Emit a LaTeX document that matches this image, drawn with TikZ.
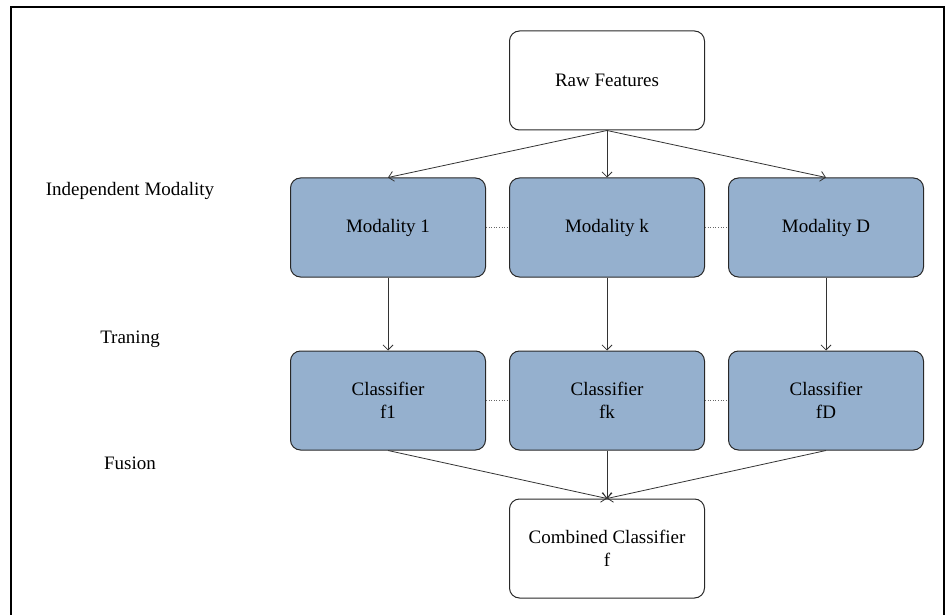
\documentclass[tikz,border=0pt]{standalone}
\usepackage{fontspec}
\setmainfont{Liberation Serif}
\usepackage{tikz}
\usetikzlibrary{arrows.meta}
\definecolor{boxblue}{RGB}{149,176,206}
\definecolor{boxline}{RGB}{40,40,40}
\tikzset{
  stagebox/.style={rectangle, draw=boxline, line width=1pt, rounded corners=10pt, minimum width=195pt, minimum height=99pt, align=center, font=\fontsize{19}{23}\selectfont},
  modbox/.style={stagebox, fill=boxblue},
  plainbox/.style={stagebox, fill=white},
  rowlabel/.style={font=\fontsize{19}{23}\selectfont},
  flow/.style={draw=black!80, line width=0.8pt, -{Straight Barb[length=5pt,width=10pt]}},
  link/.style={draw=black!60, line width=0.6pt, dotted}
}
\begin{document}
\begin{tikzpicture}[x=1pt, y=-1pt]

\useasboundingbox (0,0) rectangle (946,615);

% frame
\draw[black, line width=1.5pt] (11,615) -- (11,7) -- (944,7) -- (944,615);

% top and bottom boxes
\node at (607,80.5) [plainbox] (raw) {Raw Features};
\node at (607,548.5) [plainbox] (comb) {Combined Classifier\\f};

% modality row
\node at (388,227.5) [modbox] (mod1) {Modality 1};
\node at (607,227.5) [modbox] (modk) {Modality k};
\node at (826,227.5) [modbox] (modD) {Modality D};

% classifier row
\node at (388,400.5) [modbox] (cls1) {Classifier\\f1};
\node at (607,400.5) [modbox] (clsk) {Classifier\\fk};
\node at (826,400.5) [modbox] (clsD) {Classifier\\fD};

% row labels
\node at (130,191) [rowlabel] (lblmod) {Independent Modality};
\node at (130,339) [rowlabel] (lbltrain) {Traning};
\node at (130,463) [rowlabel] (lblfuse) {Fusion};

% raw features to modalities
\draw[flow] (raw.south) -- (mod1.north);
\draw[flow] (raw.south) -- (modk.north);
\draw[flow] (raw.south) -- (modD.north);

% training
\draw[flow] (mod1.south) -- (cls1.north);
\draw[flow] (modk.south) -- (clsk.north);
\draw[flow] (modD.south) -- (clsD.north);

% fusion
\draw[flow] (cls1.south) -- (comb.north);
\draw[flow] (clsk.south) -- (comb.north);
\draw[flow] (clsD.south) -- (comb.north);

% dotted links between neighbours
\draw[link] (mod1.east) -- (modk.west);
\draw[link] (modk.east) -- (modD.west);
\draw[link] (cls1.east) -- (clsk.west);
\draw[link] (clsk.east) -- (clsD.west);

\end{tikzpicture}
\end{document}
